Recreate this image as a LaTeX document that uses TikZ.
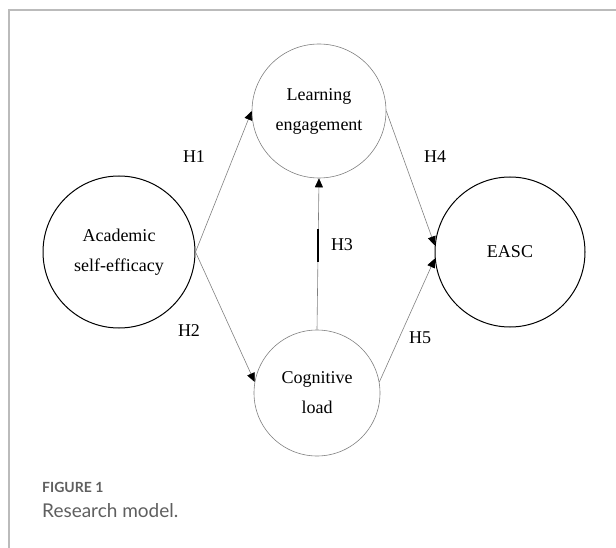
\documentclass[tikz,border=0pt]{standalone}
\usepackage{fontspec}
\setmainfont{Liberation Serif}
\newfontfamily\capfont{Lato}
\usetikzlibrary{arrows.meta}
\usetikzlibrary{positioning}
\definecolor{framegray}{HTML}{BBBBBB}
\definecolor{capgray}{HTML}{5F5F5F}
\tikzset{var/.style = {draw, circle, inner sep = 0, align = center,
                       font = \fontsize{18}{30}\selectfont}}
\tikzset{light/.style = {var, draw = gray, line width = 0.6}}
\tikzset{dark/.style = {var, draw = black, line width = 1}}
\tikzset{arr/.style = {draw = gray, line width = 0.6,
                       -{Triangle[length = 9, width = 8, color = black]}}}
\tikzset{hyp/.style = {font = \fontsize{18}{20}\selectfont}}

\begin{document}
\begin{tikzpicture}[x = 1pt, y = -1pt]
        \useasboundingbox (0, 0) rectangle (616, 548);
        \draw [framegray, line width = 1.5] (616, 10) -- (9, 10) -- (9, 548);
        \node (ase) at (119, 252) [dark, minimum size = 152] {Academic\\self-efficacy};
        \node (le) at (319, 111) [light, minimum size = 134] {Learning\\engagement};
        \node (cl) at (317, 393) [light, minimum size = 126] {Cognitive\\load};
        \node (easc) at (510, 252) [dark, minimum size = 150] {EASC};
        \draw [arr] (ase.east) -- (le.west);
        \draw [arr] (ase.east) -- (cl.170);
        \draw [arr] (cl.north) -- (le.south);
        \draw [arr] (le.east) -- (easc.175);
        \draw [arr] (cl.10) -- (easc.185);
        \draw [line width = 1.5] (318, 229) -- (318, 262);
        \node (h1) at (194, 157) [hyp] {H1};
        \node (h2) at (189, 331) [hyp] {H2};
        \node (h3) at (342, 245) [hyp] {H3};
        \node (h4) at (435, 157) [hyp] {H4};
        \node (h5) at (420, 338) [hyp] {H5};
        \node (fig) at (42, 492) [anchor = base west, inner sep = 0, text = capgray,
                                  font = \capfont\bfseries\fontsize{14}{16}\selectfont] {FIGURE 1};
        \node (cap) at (42, 517) [anchor = base west, inner sep = 0, text = capgray,
                                  font = \capfont\fontsize{19}{22}\selectfont] {Research model.};
      \end{tikzpicture}
\end{document}
